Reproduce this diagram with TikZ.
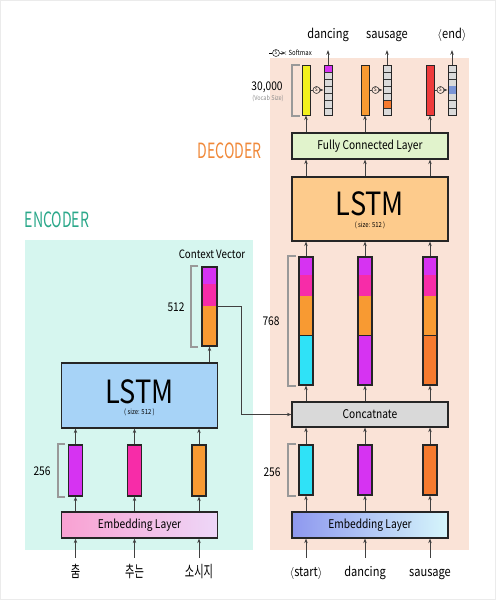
\documentclass[tikz,border=0pt]{standalone}
\usepackage{fontspec}
\setmainfont[FakeStretch=0.85]{Noto Sans CJK KR}
\usetikzlibrary{arrows.meta,positioning}

\definecolor{encbg}{HTML}{D6F6EF}
\definecolor{decbg}{HTML}{FAE3D7}
\definecolor{enctxt}{HTML}{2BA88A}
\definecolor{dectxt}{HTML}{F0893A}
\definecolor{lstmenc}{HTML}{A7D3F7}
\definecolor{lstmdec}{HTML}{FDCB8C}
\definecolor{fc}{HTML}{E1F3CC}
\definecolor{catgray}{HTML}{D9D9D9}
\definecolor{cellgray}{HTML}{DADADA}
\definecolor{vpurple}{HTML}{D633F2}
\definecolor{vpink}{HTML}{F72CA8}
\definecolor{vorange}{HTML}{F89A32}
\definecolor{vcyan}{HTML}{2FE2F7}
\definecolor{vred}{HTML}{F67A2E}
\definecolor{oyellow}{HTML}{F2F01E}
\definecolor{ored}{HTML}{EE3B3B}
\definecolor{hblue}{HTML}{7B95D6}
\definecolor{eembA}{HTML}{F9A1D2}
\definecolor{eembB}{HTML}{EDD7F8}
\definecolor{dembA}{HTML}{8E98EF}
\definecolor{dembM}{HTML}{DCE0FA}
\definecolor{dembB}{HTML}{D6F6FB}

\newcommand{\krw}[1]{\scalebox{0.75}[1]{#1}}

\begin{document}
\begin{tikzpicture}[x=1pt,y=-1pt,>={Stealth[length=4.5pt,width=3.5pt]},
  box/.style={draw=black!85,line width=1.2pt,minimum width=156pt,inner sep=0pt,
    font=\fontsize{12}{12}\selectfont},
  vec/.style={draw=black!85,line width=1.2pt,minimum width=14pt,inner sep=0pt},
  bar/.style={draw=black!85,line width=1pt,minimum width=8pt,minimum height=50pt,inner sep=0pt},
  arr/.style={->,black!75,line width=0.7pt},
  brk/.style={black!40,line width=2pt},
  smx/.style={circle,draw=black!80,line width=0.6pt,minimum size=7pt,inner sep=0pt,
    font=\fontsize{5}{5}\selectfont},
  word/.style={font=\fontsize{13}{13}\selectfont,text height=9pt,text depth=3pt,
    inner sep=1pt,anchor=base},
  lstmtext/.style={font=\fontsize{32}{32}\selectfont,inner sep=0pt},
  lbl/.style={font=\fontsize{12}{12}\selectfont}]

  \useasboundingbox (0,0) rectangle (496,600);
  \draw[black!8] (0.5,0.5) rectangle (495.5,599.5);

  % backgrounds and titles
  \fill[encbg] (25,240) rectangle (253,550);
  \fill[decbg] (270,58) rectangle (469,550);
  \node[text=enctxt,font=\fontsize{21}{21}\selectfont] (enctitle) at (57,220)
    {\scalebox{0.79}[1]{ENCODER}};
  \node[text=dectxt,font=\fontsize{21}{21}\selectfont] (dectitle) at (229.5,151)
    {\scalebox{0.79}[1]{DECODER}};

  % encoder
  \node[box,minimum height=26pt,left color=eembA,right color=eembB] (eemb) at (139.5,525)
    {Embedding Layer};
  \foreach \i/\xx/\cc/\w in {1/75.5/vpurple/춤,2/134.5/vpink/추는,3/199/vorange/소시지} {
    \node[vec,fill=\cc,minimum height=51pt] (e\i) at (\xx,470.5) {};
    \node[word,font=\fontsize{16}{16}\selectfont] (k\i) at (\xx,577) {\krw{\w}};
  }
  \draw[brk] ([xshift=-3pt]e1.north west) -- ++(-7,0) |- ([xshift=-3pt]e1.south west);
  \node[lbl] (edim) at (42,471) {256};

  \node[box,fill=lstmenc,minimum height=65pt] (elstm) at (139.5,395.5) {};
  \node[lstmtext] (elstmt) at (139.5,391.5) {LSTM};
  \node[font=\fontsize{7}{7}\selectfont] (elstms) at (139.5,412) {( size: 512 )};

  % context vector
  \fill[vpurple] (202,267) rectangle (217,284);
  \fill[vpink] (202,284) rectangle (217,306);
  \fill[vorange] (202,306) rectangle (217,346);
  \node[vec,minimum width=15pt,minimum height=79pt] (cv) at (209.5,306.5) {};
  \node[font=\fontsize{11.5}{11.5}\selectfont] (cvlabel) at (212,254) {Context Vector};
  \draw[brk] ([xshift=-3pt]cv.north west) -- ++(-7,0) |- ([xshift=-3pt]cv.south west);
  \node[lbl] (cvdim) at (176,307) {512};

  \foreach \i in {1,2,3} {
    \draw[arr,shorten <=9pt] (k\i.north) -- (eemb.south -| k\i);
    \draw[arr] (eemb.north -| e\i) -- (e\i.south);
    \draw[arr] (e\i.north) -- (elstm.south -| e\i);
  }
  \draw[arr] (elstm.north -| cv) -- (cv.south);

  % decoder
  \node[box,minimum height=26pt,left color=dembA,middle color=dembM,right color=dembB]
    (demb) at (370,525) {Embedding Layer};
  \foreach \i/\xx/\cc in {1/306/vcyan,2/365/vpurple,3/430/vred}
    \node[vec,fill=\cc,minimum height=50pt] (d\i) at (\xx,470) {};
  \draw[brk] ([xshift=-2.5pt]d1.north west) -- ++(-7.5,0) |- ([xshift=-2.5pt]d1.south west);
  \node[lbl] (ddim) at (272,472) {256};

  \node[box,fill=catgray,minimum height=25pt] (cat) at (370,414.5) {Concatnate};

  \foreach \i/\xx/\cc in {1/306/vcyan,2/365/vpurple,3/430/vred} {
    \fill[vpurple] (\xx-7,257) rectangle (\xx+7,275);
    \fill[vpink] (\xx-7,275) rectangle (\xx+7,296);
    \fill[vorange] (\xx-7,296) rectangle (\xx+7,335);
    \fill[\cc] (\xx-7,335) rectangle (\xx+7,385);
    \draw[black!85,line width=1pt] (\xx-7,335) -- (\xx+7,335);
    \node[vec,minimum height=128pt] (c\i) at (\xx,321) {};
  }
  \draw[brk] ([xshift=-2.5pt]c1.north west) -- ++(-7.5,0) |- ([xshift=-2.5pt]c1.south west);
  \node[lbl] (cdim) at (271,321) {768};

  \node[box,fill=lstmdec,minimum height=64pt] (dlstm) at (370,209) {};
  \node[lstmtext] (dlstmt) at (370,203.5) {LSTM};
  \node[font=\fontsize{7}{7}\selectfont] (dlstms) at (370,225) {( size: 512 )};

  \node[box,fill=fc,minimum height=26pt] (fcl) at (370,146) {Fully Connected Layer};

  % outputs and softmax
  \foreach \i/\xx/\cc in {1/306/oyellow,2/365/vorange,3/430/ored} {
    \node[bar,fill=\cc] (o\i) at (\xx,90) {};
    \node[smx] (sm\i) at (\xx+10.5,90) {S};
    \foreach \k in {0,...,6}
      \draw[black!80,line width=0.5pt,fill=cellgray] (\xx+18,65+\k*50/7) rectangle ++(8,50/7);
  }
  \fill[vpurple] (328-4,65) rectangle ++(8,50/7);
  \fill[vred] (387-4,65+5*50/7) rectangle ++(8,50/7);
  \fill[hblue] (452-4,65+3*50/7) rectangle ++(8,50/7);
  \foreach \i/\xx in {1/306,2/365,3/430}
    \node[bar] (s\i) at (\xx+22,90) {};

  \node[word] (w1) at (328,38) {dancing};
  \node[word] (w2) at (387,38) {sausage};
  \node[word] (w3) at (452,38) {$\langle$end$\rangle$};

  \node[word] (i1) at (306,576) {$\langle$start$\rangle$};
  \node[word] (i2) at (365,576) {dancing};
  \node[word] (i3) at (430,576) {sausage};

  \draw[brk] ([xshift=-2pt]o1.north west) -- ++(-8,0) |- ([xshift=-2pt]o1.south west);
  \node[font=\fontsize{12}{12}\selectfont] (vdim) at (267,87) {30,000};
  \node[font=\fontsize{6.5}{6.5}\selectfont,text=black!45] (vnote) at (268,98.5) {(Vocab Size)};

  % softmax legend
  \node[smx] (lgs) at (276,53) {S};
  \draw (269,53) -- (lgs.west);
  \draw[arr] (lgs.east) -- ++(6,0);
  \node[font=\fontsize{7}{7}\selectfont,anchor=west,inner sep=0pt] (lgt) at (285,53) {: Softmax};

  % connectors
  \coordinate (cvturn) at (241,306.5);
  \draw[arr] (cv.east) -- (cvturn) |- (cat.west);
  \foreach \i in {1,2,3} {
    \draw[arr,shorten <=8pt] (i\i.north) -- (demb.south -| i\i);
    \draw[arr] (demb.north -| d\i) -- (d\i.south);
    \draw[arr] (d\i.north) -- (cat.south -| d\i);
    \draw[arr] (cat.north -| c\i) -- (c\i.south);
    \draw[arr] (c\i.north) -- (dlstm.south -| c\i);
    \draw[arr] (dlstm.north -| c\i) -- (fcl.south -| c\i);
    \draw[arr] (fcl.north -| o\i) -- (o\i.south);
    \draw[black!75,line width=0.7pt] (o\i.east) -- (sm\i.west);
    \draw[arr] (sm\i.east) -- (s\i.west);
    \draw[arr,shorten >=8pt] (s\i.north) -- (w\i.south);
  }
\end{tikzpicture}
\end{document}
